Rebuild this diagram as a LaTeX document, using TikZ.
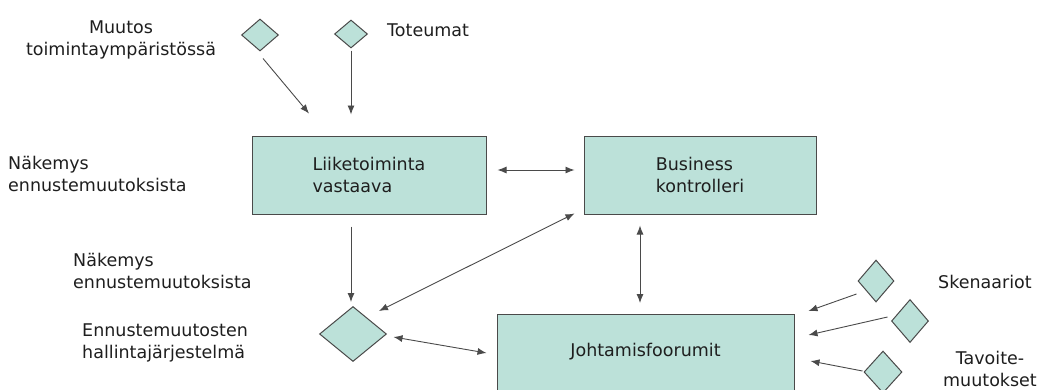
\documentclass[tikz,border=0pt]{standalone}
\usepackage{fontspec}
\setmainfont{DejaVu Sans}
\usetikzlibrary{shapes.geometric,arrows.meta,calc}
\definecolor{mint}{HTML}{BCE1D9}
\definecolor{edge}{HTML}{4A4A4A}
\definecolor{ink}{HTML}{1E1E1E}
\begin{document}
\begin{tikzpicture}[x=1pt,y=-1pt,
  every node/.style={font=\fontsize{17.5}{22}\selectfont, text=ink},
  box/.style={draw=edge, fill=mint, line width=1pt, rectangle, inner sep=0pt, align=left},
  gem/.style={draw=edge, fill=mint, line width=1pt, diamond, inner sep=0pt},
  lbl/.style={align=left, inner sep=0pt},
  link/.style={draw=edge, line width=0.9pt, -{Latex[length=9pt,width=7pt]}},
  link2/.style={draw=edge, line width=0.9pt, {Latex[length=9pt,width=7pt]}-{Latex[length=9pt,width=7pt]}}]
\useasboundingbox (0,0) rectangle (1046,389);
\clip (0,0) rectangle (1046,389);

% boxes
\node[box, minimum width=234pt, minimum height=78pt] (liike) at (369,175) {Liiketoiminta\\vastaava};
\node[box, minimum width=232pt, minimum height=78pt] (bus) at (700,175) {Business\\kontrolleri};
\node[box, minimum width=297pt, inner ysep=4pt, text height=38pt, text depth=40pt, anchor=north, align=center] (jf) at (645.5,314) {Johtamisfoorumit};

% diamonds
\node[gem, minimum width=37pt, minimum height=32pt] (d1) at (260,35) {};
\node[gem, minimum width=33pt, minimum height=28pt] (d2) at (351,34) {};
\node[gem, minimum width=67pt, minimum height=55pt] (d3) at (353,334) {};
\node[gem, minimum width=36pt, minimum height=42pt] (d4) at (876,281) {};
\node[gem, minimum width=37pt, minimum height=43pt] (d5) at (910,321) {};
\node[gem, minimum width=38pt, minimum height=42pt] (d6) at (883,372) {};

% labels
\node[lbl, align=center] (muutos) at (121,40) {Muutos\\toimintaympäristössä};
\node[lbl, anchor=west] (toteumat) at (387,30) {Toteumat};
\node[lbl, anchor=west] (nak1) at (8,174) {Näkemys\\ennustemuutoksista};
\node[lbl, anchor=west] (nak2) at (73,271) {Näkemys\\ennustemuutoksista};
\node[lbl, anchor=west] (ehj) at (82,343) {Ennustemuutosten\\hallintajärjestelmä};
\node[lbl, anchor=west] (sken) at (938,282) {Skenaariot};
\node[lbl, align=center, anchor=south] (tav) at (990,387) {Tavoite-\\muutokset};

% connectors
\draw[link] ($(d1.south)+(3,7)$) -- ($(liike.north)+(-60,-22)$);
\draw[link] ($(d2.south)+(0,2)$) -- ($(liike.north)+(-18,-21)$);
\draw[link2] ($(liike.east)+(11,-5)$) -- ($(bus.west)+(-9,-5)$);
\draw[link] ($(liike.south)+(-18,12)$) -- ($(d3.north)+(-2,-4)$);
\draw[link2] ($(bus.south west)+(-9,-1)$) -- ($(d3.east)+(-8,-23)$);
\draw[link2] ($(bus.south)+(-60,11)$) -- ($(jf.north)+(-5.5,-11)$);
\draw[link2] ($(d3.east)+(6.5,3)$) -- ($(jf.north west)+(-10,39)$);
\draw[link] ($(d4.west)+(-1,13)$) -- ($(jf.north east)+(14,-3)$);
\draw[link] ($(d5.west)+(-3.5,-4)$) -- ($(jf.north east)+(14,21)$);
\draw[link] ($(d6.west)+(-1,-1)$) -- ($(jf.north east)+(16,47)$);
\end{tikzpicture}
\end{document}
